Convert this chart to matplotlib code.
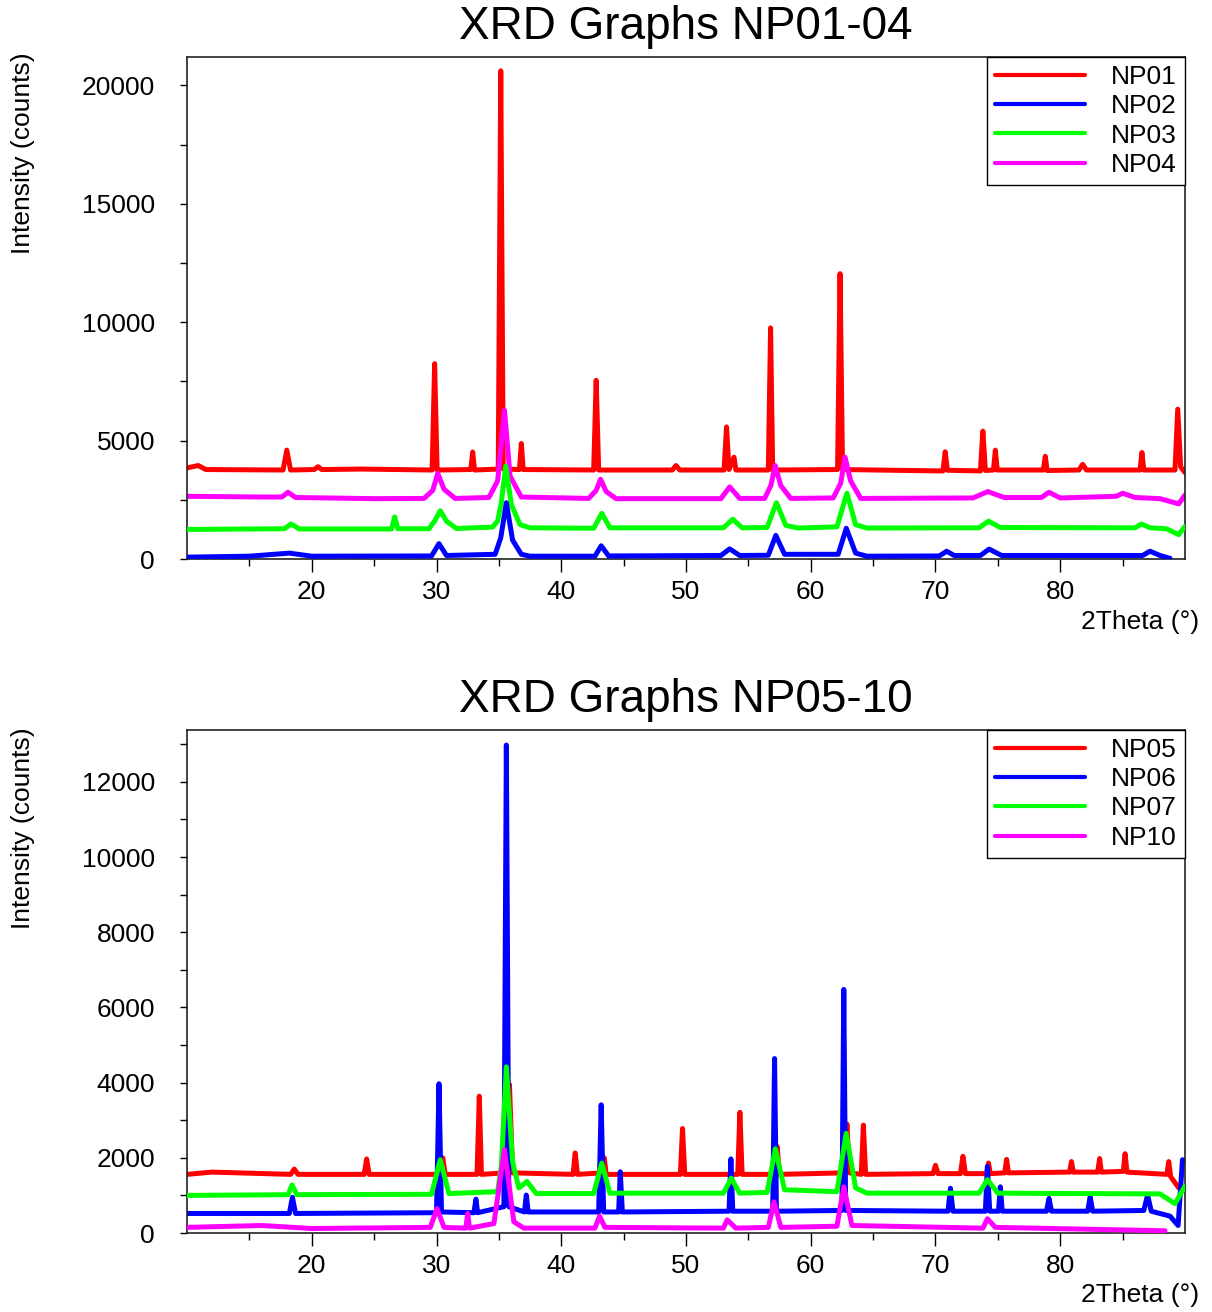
import matplotlib
matplotlib.use("Agg")
import matplotlib.pyplot as plt
from matplotlib.ticker import MultipleLocator, FixedLocator

plt.rcParams['font.family'] = ['Liberation Sans', 'DejaVu Sans']

# (2theta, counts) vertices
np01 = [(10.0, 3850), (10.9, 3950), (11.5, 3780), (17.7, 3760), (18.0, 4600), (18.3, 3760),
        (20.2, 3780), (20.5, 3900), (20.8, 3780), (24.0, 3800), (29.65, 3760), (29.85, 8250),
        (30.05, 3760), (32.75, 3780), (32.9, 4520), (33.05, 3760), (34.95, 3800), (35.15, 20620),
        (35.35, 3800), (36.65, 3780), (36.8, 4880), (36.95, 3780), (42.6, 3760), (42.8, 7550),
        (43.0, 3760), (48.9, 3760), (49.2, 3950), (49.5, 3760), (53.05, 3760), (53.25, 5580),
        (53.45, 3780), (53.85, 4300), (54.0, 3760), (56.6, 3760), (56.78, 9760), (56.95, 3760),
        (62.15, 3780), (62.35, 12050), (62.55, 3780), (70.6, 3720), (70.78, 4530), (70.95, 3750),
        (73.6, 3720), (73.8, 5400), (74.0, 3740), (74.65, 3760), (74.8, 4600), (74.95, 3760),
        (78.65, 3760), (78.8, 4340), (78.95, 3740), (81.5, 3760), (81.8, 4000), (82.1, 3760),
        (86.4, 3760), (86.55, 4500), (86.7, 3760), (89.2, 3760), (89.42, 6330), (89.65, 3900),
        (90.0, 3650)]
np02 = [(10, 80), (15, 120), (18.2, 250), (20, 120), (29.6, 130), (30.2, 650), (30.8, 150),
        (34.7, 200), (35.15, 900), (35.6, 2380), (36.1, 800), (36.8, 200), (37.5, 120),
        (42.7, 120), (43.2, 560), (43.8, 130), (52.8, 150), (53.5, 430), (54.3, 150),
        (56.6, 160), (57.2, 1000), (57.9, 200), (62.2, 200), (62.85, 1300), (63.6, 250),
        (64.5, 120), (70.3, 130), (70.9, 330), (71.5, 150), (73.6, 150), (74.3, 420),
        (75.3, 150), (86.6, 150), (87.2, 330), (88.0, 150), (88.8, 30)]
np03 = [(10, 1250), (17.8, 1280), (18.35, 1480), (19.0, 1270), (26.4, 1270), (26.65, 1780),
        (26.9, 1280), (29.4, 1280), (29.9, 1650), (30.3, 2040), (30.8, 1600), (31.6, 1290),
        (34.5, 1350), (34.9, 1600), (35.2, 2400), (35.55, 3920), (36.0, 2300), (36.7, 1450),
        (37.5, 1320), (42.6, 1300), (43.25, 1930), (43.9, 1320), (53.0, 1320), (53.75, 1680),
        (54.5, 1320), (56.5, 1330), (57.25, 2380), (58.0, 1420), (59.0, 1310), (62.1, 1360),
        (62.9, 2780), (63.6, 1450), (64.5, 1310), (73.5, 1320), (74.25, 1600), (75.2, 1330),
        (86.0, 1320), (86.5, 1480), (87.2, 1320), (88.5, 1280), (89.5, 1030), (90.0, 1380)]
np04 = [(10, 2650), (16, 2620), (17.6, 2620), (18.1, 2820), (18.7, 2600), (25, 2550),
        (29.0, 2560), (29.7, 2900), (30.1, 3620), (30.6, 2950), (31.5, 2560), (34.2, 2600),
        (34.9, 3300), (35.45, 6280), (35.9, 3500), (36.8, 2620), (42.2, 2560), (42.8, 2900),
        (43.15, 3370), (43.6, 2850), (44.4, 2550), (52.8, 2550), (53.5, 3050), (54.3, 2560),
        (56.3, 2560), (56.8, 3100), (57.15, 3950), (57.6, 3100), (58.4, 2560), (61.8, 2580),
        (62.4, 3200), (62.75, 4300), (63.2, 3300), (64.0, 2560), (73.0, 2580), (74.2, 2850),
        (75.5, 2600), (78.5, 2600), (79.1, 2820), (80.0, 2580), (84.5, 2650), (85.0, 2780),
        (86.0, 2600), (88.0, 2550), (89.5, 2330), (90.0, 2700)]

np05 = [(10, 1560), (12, 1620), (18.3, 1560), (18.6, 1700), (18.9, 1560), (24.2, 1560),
        (24.4, 1970), (24.6, 1560), (30.3, 1560), (30.5, 2000), (30.7, 1560), (33.25, 1560),
        (33.43, 3640), (33.6, 1560), (35.5, 1600), (35.85, 3950), (36.1, 1600), (40.95, 1560),
        (41.12, 2130), (41.3, 1560), (43.3, 1600), (43.45, 2000), (43.6, 1560), (49.55, 1560),
        (49.72, 2780), (49.9, 1560), (54.15, 1560), (54.32, 3210), (54.5, 1560), (57.1, 1560),
        (57.3, 2300), (57.5, 1560), (62.7, 1600), (62.9, 2900), (63.1, 1600), (64.05, 1560),
        (64.22, 2870), (64.4, 1560), (69.8, 1580), (70.0, 1800), (70.2, 1580), (72.0, 1580),
        (72.2, 2040), (72.4, 1580), (74.1, 1580), (74.25, 1860), (74.4, 1580), (75.55, 1600),
        (75.7, 1960), (75.85, 1600), (80.75, 1620), (80.9, 1900), (81.05, 1620), (83.0, 1620),
        (83.16, 1980), (83.3, 1620), (85.05, 1640), (85.2, 2110), (85.35, 1620), (88.55, 1560),
        (88.7, 1900), (88.85, 1500), (89.5, 1200), (90.0, 1180)]
np06 = [(10, 520), (18.2, 520), (18.45, 950), (18.7, 520), (30.0, 540), (30.2, 3970),
        (30.4, 560), (33.0, 540), (33.16, 900), (33.3, 540), (35.4, 700), (35.6, 12980),
        (35.8, 700), (37.05, 560), (37.2, 1010), (37.35, 560), (43.0, 560), (43.2, 3410),
        (43.4, 560), (44.6, 560), (44.73, 1630), (44.9, 560), (53.45, 580), (53.6, 1970),
        (53.75, 580), (56.95, 580), (57.1, 4640), (57.25, 580), (62.5, 600), (62.65, 6480),
        (62.8, 600), (71.0, 580), (71.2, 1190), (71.4, 580), (74.0, 580), (74.16, 1770),
        (74.35, 580), (75.05, 580), (75.2, 1230), (75.35, 580), (78.9, 580), (79.1, 920),
        (79.3, 580), (82.2, 580), (82.4, 960), (82.6, 580), (86.7, 600), (87.0, 1010),
        (87.3, 580), (88.8, 450), (89.45, 200), (89.8, 1950), (90.0, 1900)]
np07 = [(10, 1000), (18.1, 1020), (18.42, 1280), (18.8, 1020), (29.6, 1030), (30.3, 1950),
        (31.0, 1050), (34.9, 1100), (35.2, 1800), (35.6, 4420), (36.1, 1900), (36.6, 1200),
        (37.25, 1370), (38.0, 1050), (42.6, 1050), (43.25, 1860), (43.9, 1060), (53.0, 1060),
        (53.63, 1460), (54.3, 1060), (56.5, 1080), (57.16, 2240), (57.9, 1150), (62.1, 1100),
        (62.84, 2650), (63.6, 1200), (64.5, 1060), (73.5, 1060), (74.16, 1420), (75.0, 1060),
        (88.0, 1040), (89.2, 780), (90.0, 1250)]
np10 = [(10, 150), (16, 200), (20, 120), (29.5, 150), (30.05, 650), (30.6, 150), (32.35, 130),
        (32.5, 520), (32.65, 130), (34.6, 250), (35.45, 2220), (36.2, 300), (37.0, 130),
        (42.7, 130), (43.07, 450), (43.5, 150), (53.0, 130), (53.3, 350), (54.0, 130),
        (56.6, 150), (57.06, 830), (57.6, 150), (62.1, 180), (62.65, 1230), (63.3, 200),
        (73.8, 130), (74.16, 380), (74.8, 150), (88.4, 60)]

top_series = [("NP01", np01, "#ff0000", 1), ("NP02", np02, "#0000ff", 4),
              ("NP03", np03, "#00ff00", 3), ("NP04", np04, "#ff00ff", 2)]
bottom_series = [("NP05", np05, "#ff0000", 1), ("NP06", np06, "#0000ff", 2),
                 ("NP07", np07, "#00ff00", 3), ("NP10", np10, "#ff00ff", 4)]


def draw_panel(ax, series, title, ymax, ymajor, yminor):
    for name, pts, color, z in series:
        xs = [p[0] for p in pts]
        ys = [p[1] for p in pts]
        ax.plot(xs, ys, color=color, lw=3.6, label=name, zorder=z,
                solid_joinstyle='round', solid_capstyle='round')
    ax.set_xlim(10, 90)
    ax.set_ylim(0, ymax)
    ax.xaxis.set_major_locator(FixedLocator([20, 30, 40, 50, 60, 70, 80]))
    ax.xaxis.set_minor_locator(FixedLocator([15, 25, 35, 45, 55, 65, 75, 85]))
    ax.yaxis.set_major_locator(MultipleLocator(ymajor))
    ax.yaxis.set_minor_locator(MultipleLocator(yminor))
    ax.tick_params(axis='x', which='major', direction='out', length=9, width=1,
                   labelsize=19, pad=6, top=False)
    ax.tick_params(axis='x', which='minor', direction='out', length=5, width=1, top=False)
    ax.tick_params(axis='y', which='both', direction='out', length=5, width=1,
                   labelsize=19, pad=18, right=False)
    for sp in ax.spines.values():
        sp.set_linewidth(1.2)
        sp.set_color('#222222')
    ax.set_title(title, fontsize=33, pad=13)
    leg = ax.legend(loc='upper right', borderaxespad=0, fontsize=19, frameon=True,
                    fancybox=False, edgecolor='black', framealpha=1,
                    handlelength=3.4, handletextpad=1.0, labelspacing=0.2,
                    borderpad=0.3)
    for line in leg.get_lines():
        line.set_linewidth(3)
    leg.get_frame().set_linewidth(1.0)


fig = plt.figure(figsize=(12.12, 13.12), dpi=100)
ax1 = fig.add_axes([0.1543, 0.5739, 0.8234, 0.3826])
ax2 = fig.add_axes([0.1543, 0.0602, 0.8234, 0.3834])

draw_panel(ax1, top_series, "XRD Graphs NP01-04", 21200, 5000, 2500)
draw_panel(ax2, bottom_series, "XRD Graphs NP05-10", 13380, 2000, 1000)

for ytop, ylab in [(52, 622), (727, 1295)]:
    fig.text(23 / 1212, 1 - ytop / 1312, "Intensity (counts)", rotation=90,
             ha='center', va='top', fontsize=19)
    fig.text(1199 / 1212, 1 - ylab / 1312, "2Theta (°)", ha='right', va='center', fontsize=19)

fig.savefig("out.png", dpi=100)
